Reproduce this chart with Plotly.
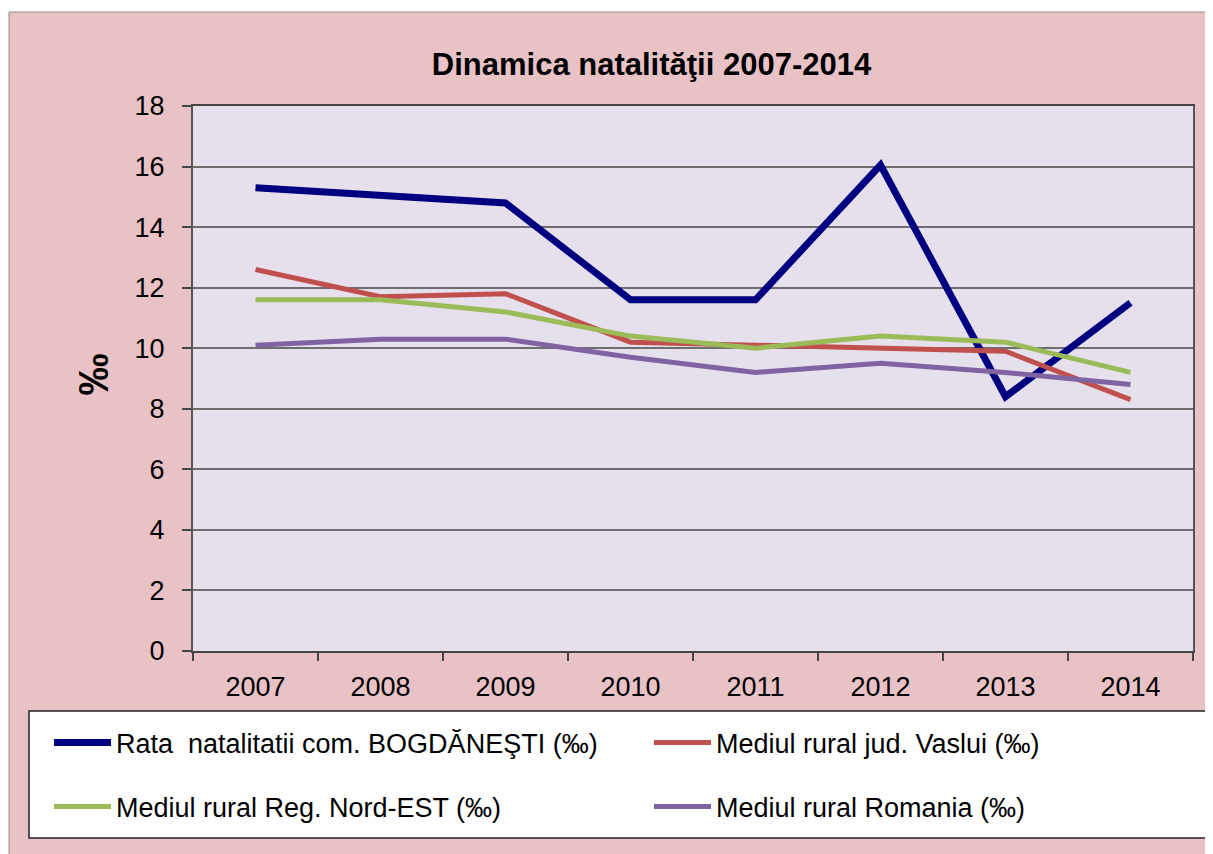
import plotly.graph_objects as go

years = ["2007", "2008", "2009", "2010", "2011", "2012", "2013", "2014"]
bogdanesti = [15.3, 15.05, 14.8, 11.6, 11.6, 16.05, 8.4, 11.5]
vaslui = [12.6, 11.7, 11.8, 10.2, 10.1, 10.0, 9.9, 8.3]
nord_est = [11.6, 11.6, 11.2, 10.4, 10.0, 10.4, 10.2, 9.2]
romania = [10.1, 10.3, 10.3, 9.7, 9.2, 9.5, 9.2, 8.8]

names = [
    "Rata\u00a0 natalitatii com. BOGDĂNEŞTI (‰)",
    "Mediul rural jud. Vaslui (‰)",
    "Mediul rural Reg. Nord-EST (‰)",
    "Mediul rural Romania (‰)",
]
series = [bogdanesti, vaslui, nord_est, romania]
colors = ["#000080", "#C0504D", "#9BBB59", "#8064A2"]
widths = [7, 5, 5, 5]
legends = ["legend", "legend2", "legend3", "legend4"]

# figure coordinates (page has an 8px body margin)
W, H = 1205, 846
L, R, T, B = 185, 1185, 98, 643
PW, PH = R - L, B - T
FONT = "Liberation Sans, Arial"

def px(xp):
    return (xp - L) / PW

def py(yp):
    return (B - yp) / PH

fig = go.Figure()
for n, s, c, w, lg in zip(names, series, colors, widths, legends):
    fig.add_trace(go.Scatter(x=years, y=s, name=n, mode="lines",
                             line=dict(color=c, width=w), legend=lg))

pink = "#E9C2C5"
shapes = [
    dict(type="rect", xref="paper", yref="paper", x0=px(1), x1=px(1230), y0=py(870), y1=py(4),
         fillcolor=pink, line=dict(color="#9a8888", width=1), layer="below"),
    dict(type="rect", xref="paper", yref="paper", x0=0, x1=1, y0=0, y1=1,
         fillcolor="#E6E0EC", line=dict(width=0), layer="below"),
    dict(type="rect", xref="paper", yref="paper", x0=px(21), x1=px(1240), y0=py(830), y1=py(703),
         fillcolor="white", line=dict(color="#222222", width=1.5), layer="below"),
]

legend_pos = [(41, 735), (641, 735), (41, 799), (641, 799)]
leg_layout = {}
for lg, (lx, ly) in zip(legends, legend_pos):
    leg_layout[lg] = dict(x=px(lx), y=py(ly), xanchor="left", yanchor="middle",
                          bgcolor="rgba(0,0,0,0)", borderwidth=0, itemwidth=57,
                          font=dict(family=FONT, size=27, color="black"))

fig.update_layout(
    width=W, height=H,
    margin=dict(l=L, r=W - R, t=T, b=H - B),
    paper_bgcolor="white",
    plot_bgcolor="rgba(0,0,0,0)",
    shapes=shapes,
    title=dict(text="<b>Dinamica natalităţii 2007-2014</b>", x=643.5 / W, y=1 - 56 / H,
               xanchor="center", yanchor="middle", xref="container", yref="container",
               font=dict(family=FONT, size=31, color="black")),
    annotations=[dict(text="<b>‰</b>", xref="paper", yref="paper", x=px(59), y=py(367),
                      showarrow=False, textangle=-90,
                      font=dict(family=FONT, size=42, color="black"))],
    showlegend=True,
    **leg_layout,
)

fig.update_xaxes(type="category", range=[-0.5, 7.5], tickson="boundaries",
                 ticks="outside", ticklen=8, tickcolor="#444444", tickwidth=1.5,
                 showline=True, linecolor="#444444", linewidth=2, mirror=True,
                 showgrid=False, ticklabelstandoff=11, automargin=False,
                 tickfont=dict(family=FONT, size=27, color="black"))
fig.update_yaxes(range=[0, 18], dtick=2, ticks="outside", ticklen=9,
                 tickcolor="#444444", tickwidth=1.5,
                 showline=True, linecolor="#555555", linewidth=2, mirror=True,
                 showgrid=True, gridcolor="#6E6E6E", gridwidth=1.5, zeroline=False,
                 ticklabelstandoff=12, automargin=False,
                 tickfont=dict(family=FONT, size=27, color="black"))

fig.write_html("out.html")
